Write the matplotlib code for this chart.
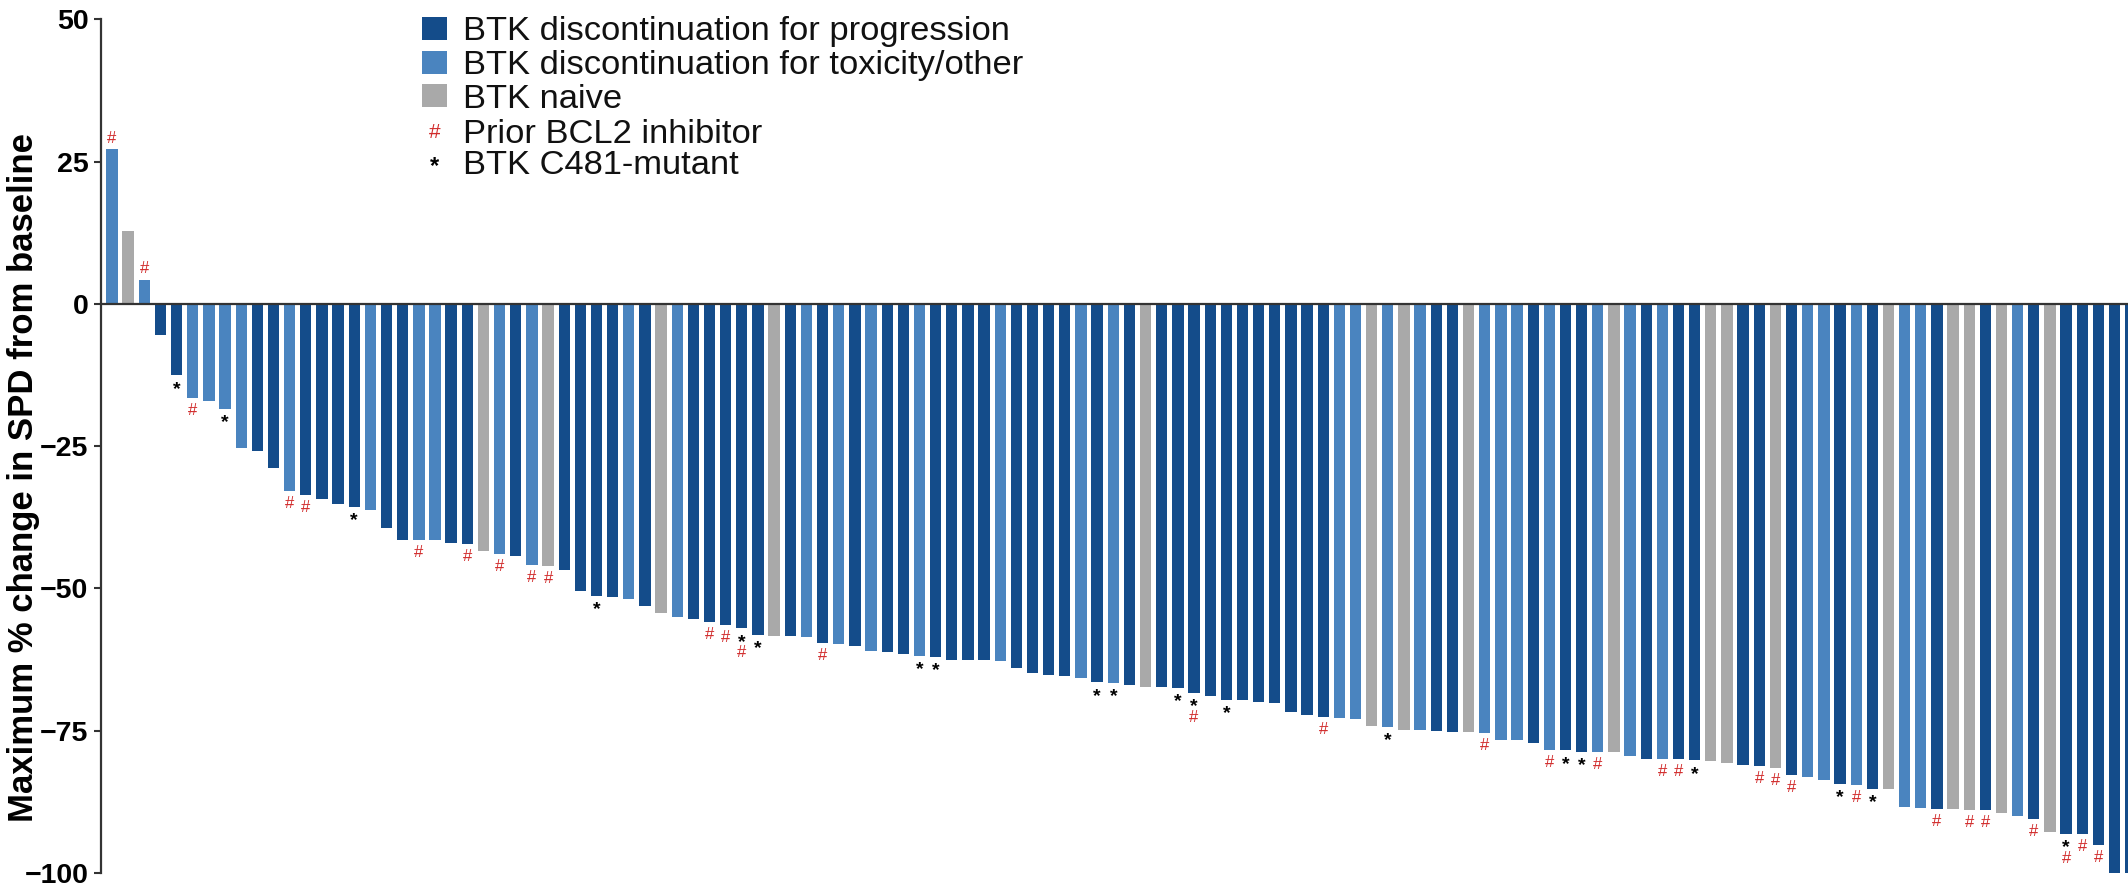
import matplotlib
matplotlib.use("Agg")
import matplotlib.pyplot as plt
from matplotlib.patches import Rectangle
import numpy as np

plt.rcParams['font.family'] = ['Liberation Sans', 'DejaVu Sans']

# Best % change in SPD per patient, ordered from largest increase to largest decrease
spd_change = [
    27.2, 12.9, 4.3, -5.4, -12.5, -16.5, -17.0, -18.4, -25.3, -25.9,
    -28.9, -32.8, -33.5, -34.2, -35.2, -35.6, -36.2, -39.3, -41.4, -41.4,
    -41.5, -42.0, -42.1, -43.4, -44.0, -44.3, -45.8, -46.0, -46.7, -50.4,
    -51.3, -51.5, -51.9, -53.0, -54.3, -55.0, -55.4, -55.9, -56.4, -57.0,
    -58.1, -58.4, -58.4, -58.6, -59.5, -59.8, -60.1, -61.0, -61.1, -61.5,
    -61.8, -62.0, -62.5, -62.5, -62.6, -62.8, -63.9, -64.8, -65.2, -65.4,
    -65.8, -66.5, -66.6, -67.0, -67.3, -67.3, -67.5, -68.3, -68.9, -69.6,
    -69.6, -69.9, -70.2, -71.7, -72.3, -72.5, -72.8, -73.0, -74.1, -74.3,
    -74.8, -74.8, -75.0, -75.3, -75.3, -75.4, -76.6, -76.7, -77.1, -78.3,
    -78.4, -78.7, -78.8, -78.8, -79.5, -79.9, -79.9, -79.9, -80.2, -80.4,
    -80.6, -81.1, -81.2, -81.5, -82.7, -83.2, -83.6, -84.3, -84.6, -85.2,
    -85.3, -88.4, -88.5, -88.7, -88.7, -89.0, -89.0, -89.4, -89.9, -90.5,
    -92.8, -93.1, -93.1, -95.1, -100.0, -100.0,
]

# Prior BTK status per patient: P = discontinued for progression,
# T = discontinued for toxicity/other, N = BTK naive
cohort = list(
    "TNTPPTTTTP" "PTPPPPTPPT" "TPPNTPTNPP" "PPTPNTPPPP" "PNPTPTPTPP"
    "TPPPPTPPPP" "TPTPNPPPPP" "PPPPPPTTNT" "NTPPNTTTPT" "PPTNTPTPPN"
    "NPPNPTTPTP" "NTTPNNPNTP" "NPPPPP"
)

# Patient ranks (1-based) carrying each annotation
prior_bcl2 = [1, 3, 6, 12, 13, 20, 23, 25, 27, 28, 38, 39, 40, 45, 68, 76,
              86, 90, 93, 97, 98, 103, 104, 105, 109, 114, 116, 117, 120,
              122, 123, 124]
c481_mutant = [5, 8, 16, 31, 40, 41, 51, 52, 62, 63, 67, 68, 70, 80, 91, 92,
               99, 108, 110, 122]

legend_labels = ["BTK discontinuation for progression",
                 "BTK discontinuation for toxicity/other",
                 "BTK naive",
                 "Prior BCL2 inhibitor",
                 "BTK C481-mutant"]

colors = {"P": "#144c8a", "T": "#4a84bf", "N": "#a9a9a9"}
red = "#d12b2b"

W, H = 2128, 886
fig = plt.figure(figsize=(W / 100, H / 100), dpi=100)
ax_left, ax_right, ax_top, ax_bot = 101, 2128, 19.5, 873
ax = fig.add_axes([ax_left / W, (H - ax_bot) / H,
                   (ax_right - ax_left) / W, (ax_bot - ax_top) / H])

x = np.arange(1, len(spd_change) + 1)
ax.bar(x, spd_change, width=0.7, color=[colors[c] for c in cohort],
       edgecolor="none", zorder=2)

ax.axhline(0, color="#333333", lw=1.6, zorder=3)
ax.set_xlim(0.319, 125.83)
ax.set_ylim(-100, 50)
ax.set_yticks([50, 25, 0, -25, -50, -75, -100])
ax.tick_params(axis="y", direction="out", length=5, width=1.5,
               color="#333333", labelsize=20.5, pad=4)
for lab in ax.get_yticklabels():
    lab.set_fontweight("bold")
ax.set_xticks([])
for side in ("top", "right", "bottom"):
    ax.spines[side].set_visible(False)
ax.spines["left"].set_color("#333333")
ax.spines["left"].set_linewidth(1.6)

ax.set_ylabel("Maximum % change in SPD from baseline", fontsize=25,
              fontweight="bold", va="center")
ax.yaxis.set_label_coords((24 - ax_left) / (ax_right - ax_left), 0.463)

# Annotation symbols under (or above) each bar
for i, v in zip(x, spd_change):
    has_star = i in c481_mutant
    has_hash = i in prior_bcl2
    if v >= 0:
        if has_hash:
            ax.annotate("#", (i, v), xytext=(0, 6.5), textcoords="offset pixels",
                        ha="center", va="baseline", fontsize=12, color=red)
        continue
    if has_star:
        ax.annotate("*", (i, v), xytext=(0, -18.5), textcoords="offset pixels",
                    ha="center", va="baseline", fontsize=14, fontweight="bold",
                    color="black")
    if has_hash:
        dy = -29 if has_star else -17
        ax.annotate("#", (i, v), xytext=(0, dy), textcoords="offset pixels",
                    ha="center", va="baseline", fontsize=12, color=red)

# Legend
sq_x, sq_w, sq_h = 422, 25, 23
row_y = [28, 62, 95.5, 131, 162]
for k, code in enumerate(["P", "T", "N"]):
    fig.patches.append(Rectangle((sq_x / W, 1 - (row_y[k] + sq_h / 2) / H),
                                 sq_w / W, sq_h / H, transform=fig.transFigure,
                                 facecolor=colors[code], edgecolor="none"))
fig.text((sq_x + sq_w / 2) / W, 1 - (row_y[3] + 1) / H, "#", color=red,
         fontsize=15, ha="center", va="center")
fig.text((sq_x + sq_w / 2) / W, 1 - (row_y[4] + 5) / H, "*", color="black",
         fontsize=17, fontweight="bold", ha="center", va="center")
for k, lab in enumerate(legend_labels):
    fig.text(463 / W, 1 - row_y[k] / H, lab, fontsize=24.8, ha="left",
             va="center_baseline", color="#111111")

fig.savefig("out.png", dpi=100)
